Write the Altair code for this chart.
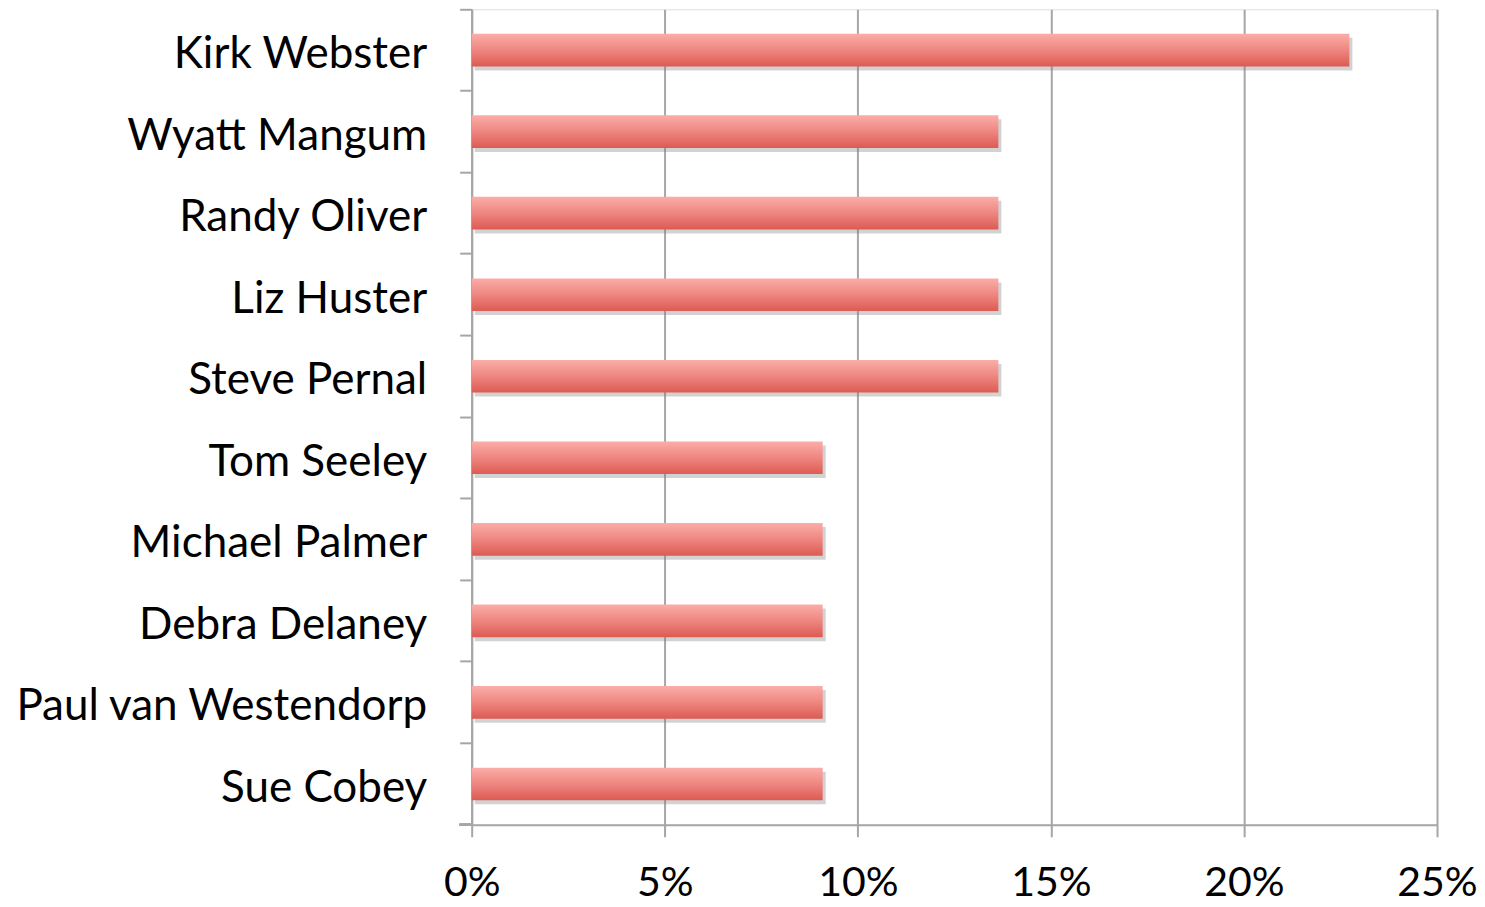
import altair as alt
import pandas as pd

names = ["Kirk Webster", "Wyatt Mangum", "Randy Oliver", "Liz Huster", "Steve Pernal",
         "Tom Seeley", "Michael Palmer", "Debra Delaney", "Paul van Westendorp", "Sue Cobey"]
shares = [0.2273, 0.1364, 0.1364, 0.1364, 0.1364, 0.0909, 0.0909, 0.0909, 0.0909, 0.0909]
x_ticks = [0, 0.05, 0.10, 0.15, 0.20, 0.25]

df = pd.DataFrame({"name": names, "share": shares})

FONT = "Lato"
GRAY = "#A6A6A6"

y_enc = alt.Y("name:N", sort=names, title=None,
              scale=alt.Scale(paddingInner=0, paddingOuter=0),
              axis=alt.Axis(bandPosition=0, domainColor=GRAY, domainWidth=2,
                            tickColor=GRAY, tickWidth=2, tickSize=12,
                            labelFont=FONT, labelFontSize=44, labelColor="black",
                            labelPadding=33, labelLimit=600, labelOffset=5))
x_enc = alt.X("share:Q", title=None,
              scale=alt.Scale(domain=[0, 0.25], nice=False),
              axis=alt.Axis(values=x_ticks, format=".0%", grid=True, gridColor=GRAY,
                            gridWidth=2, domainColor=GRAY, domainWidth=2,
                            tickColor=GRAY, tickWidth=2, tickSize=12,
                            labelFont=FONT, labelFontSize=41, labelColor="black",
                            labelPadding=27, labelFlush=False))

shadow = alt.Chart(df).mark_bar(height={"band": 0.4}, color="#7f7f7f", opacity=0.35,
                                xOffset=3, yOffset=4).encode(x=x_enc, y=y_enc)

grad = alt.Gradient(gradient="linear", x1=0, x2=0, y1=0, y2=1,
                    stops=[alt.GradientStop(color="#FBADA8", offset=0),
                           alt.GradientStop(color="#EE8680", offset=0.5),
                           alt.GradientStop(color="#DC5B53", offset=1)])
bars = alt.Chart(df).mark_bar(height={"band": 0.4}, color=grad).encode(x=x_enc, y=y_enc)

bottom_tick = alt.Chart(df).mark_rule(color=GRAY, strokeWidth=2).encode(
    x=alt.value(-12), x2=alt.value(0), y=alt.value(816))

chart = alt.layer(shadow, bars, bottom_tick).properties(
    width=966, height=816,
    autosize=alt.AutoSizeParams(type="none"),
    padding={"left": 464, "top": 1, "right": 40, "bottom": 80},
).configure_view(stroke="transparent").configure(background="white")

chart.save("out.html", embed_options={"renderer": "svg", "actions": False})
